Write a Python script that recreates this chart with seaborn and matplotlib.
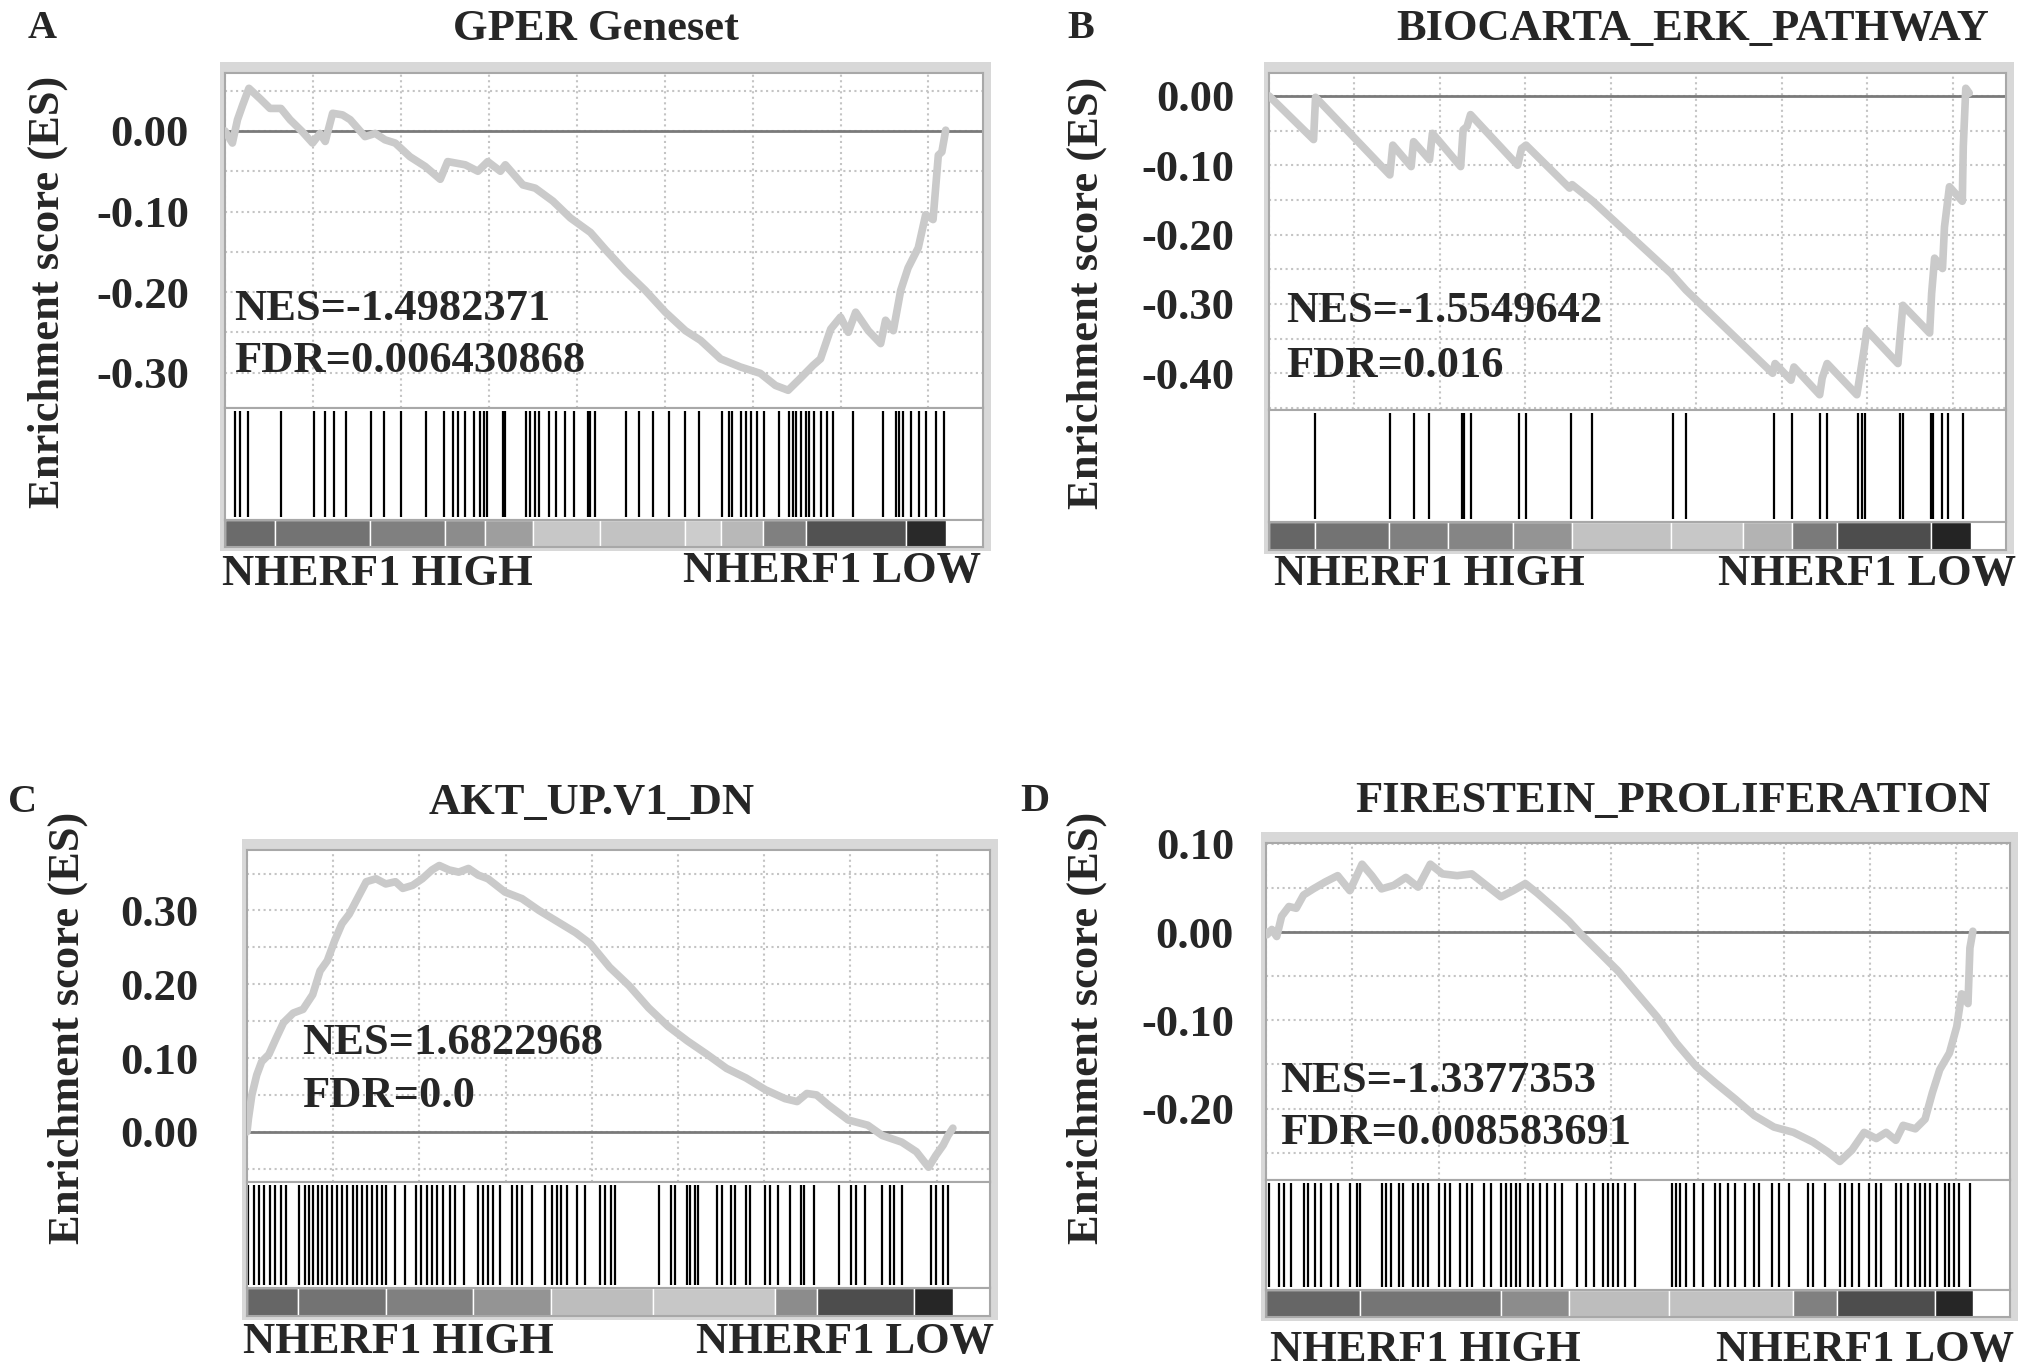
"""
GSEA enrichment plots: NHERF1 high vs low (4 gene sets)
"""

import matplotlib.pyplot as plt
import matplotlib.patches as mpatches
from matplotlib.ticker import MultipleLocator
import seaborn as sns

# ---------------- data ----------------
# ranks in the ordered gene list (grid every 2500), ES values

# A - GPER Geneset
a_rank = [0, 70, 210, 355, 500, 680, 1000, 1280, 1590, 1850, 2200, 2490, 2700, 2850, 3060, 3340, 3560,
          3980, 4270, 4550, 4840, 5260, 5690, 6120, 6330, 6830, 7190, 7470, 7830, 7970, 8470, 8820,
          9320, 9820, 10390, 10810, 11380, 11950, 12520, 13090, 13520, 14090, 14650, 15220, 15650,
          16010, 16360, 16720, 16930, 17220, 17500, 17720, 17930, 18290, 18640, 18780, 19000, 19210,
          19420, 19710, 19920, 20130, 20280, 20380, 20490]
a_es = [0.0, -0.005, -0.015, 0.014, 0.032, 0.053, 0.040, 0.028, 0.028, 0.014, -0.001, -0.015, -0.003,
        -0.013, 0.022, 0.020, 0.014, -0.007, -0.003, -0.011, -0.015, -0.032, -0.044, -0.060, -0.038,
        -0.042, -0.050, -0.038, -0.050, -0.042, -0.067, -0.071, -0.087, -0.108, -0.126, -0.147,
        -0.174, -0.198, -0.225, -0.248, -0.260, -0.283, -0.293, -0.301, -0.316, -0.322, -0.307,
        -0.291, -0.283, -0.246, -0.231, -0.250, -0.225, -0.248, -0.264, -0.235, -0.248, -0.198,
        -0.170, -0.145, -0.104, -0.110, -0.030, -0.026, 0.001]
a_hits = [285, 427, 640, 1594, 2519, 2846, 3088, 3444, 4155, 4511, 5009, 5720, 6218, 6475, 6617, 6830,
          7072, 7257, 7357, 7443, 7898, 7969, 8567, 8681, 8823, 8922, 9207, 9420, 9677, 9918, 10317,
          10388, 10530, 11412, 11768, 12167, 12622, 13092, 13476, 14116, 14330, 14401, 14657, 14799,
          14942, 15112, 15326, 15753, 16037, 16151, 16222, 16365, 16507, 16607, 16749, 16934, 17105,
          17290, 17859, 18712, 19068, 19168, 19282, 19495, 19737, 19922, 20207, 20449]
a_bar_edges = [0, 1420, 4130, 6260, 7400, 8750, 10670, 13090, 14090, 15300, 16510, 19350, 20490]
a_bar_grays = [0.42, 0.45, 0.50, 0.55, 0.62, 0.78, 0.76, 0.80, 0.72, 0.50, 0.32, 0.16]

# B - BIOCARTA_ERK_PATHWAY
b_rank = [0, 1303, 1361, 3533, 3620, 4156, 4228, 4692, 4779, 5604, 5676, 5792, 5893, 7269, 7385, 7515,
          8789, 8862, 9369, 9470, 11758, 12192, 14726, 14798, 15262, 15349, 16102, 16175, 16320, 17189,
          17290, 17406, 17478, 18390, 18462, 18535, 19317, 19375, 19462, 19693, 19751, 19896, 20272,
          20301, 20374, 20475]
b_es = [0.0, -0.063, -0.002, -0.114, -0.071, -0.102, -0.066, -0.092, -0.054, -0.102, -0.049, -0.044,
        -0.027, -0.100, -0.076, -0.071, -0.133, -0.128, -0.148, -0.152, -0.256, -0.280, -0.400, -0.386,
        -0.410, -0.391, -0.431, -0.407, -0.386, -0.431, -0.400, -0.364, -0.338, -0.386, -0.342, -0.302,
        -0.342, -0.285, -0.234, -0.249, -0.189, -0.131, -0.152, -0.073, 0.011, 0.004]
b_hits = [1332, 3533, 4228, 4692, 5647, 5705, 5893, 7298, 7515, 8833, 9441, 11801, 12192, 14755, 15305,
          16102, 16319, 17217, 17333, 17434, 18462, 18534, 19360, 19403, 19693, 19867, 20301]
b_bar_edges = [0, 1332, 3504, 5242, 7124, 8862, 11758, 13858, 15305, 16608, 19360, 20519]
b_bar_grays = [0.40, 0.45, 0.50, 0.52, 0.58, 0.76, 0.78, 0.70, 0.48, 0.30, 0.14]

# C - AKT_UP.V1_DN
c_rank = [0, 42, 141, 282, 424, 635, 847, 1059, 1341, 1624, 1906, 2118, 2330, 2542, 2753, 2965, 3177,
          3459, 3742, 4024, 4307, 4518, 4801, 5083, 5366, 5577, 5860, 6142, 6424, 6707, 6989, 7483,
          7977, 8472, 8966, 9531, 9955, 10519, 11084, 11649, 12214, 12779, 13343, 13908, 14473, 15038,
          15603, 15956, 16238, 16520, 16873, 17438, 18003, 18427, 18992, 19415, 19768, 19980, 20192,
          20333, 20474]
c_es = [0.0, 0.018, 0.050, 0.077, 0.095, 0.105, 0.127, 0.148, 0.161, 0.166, 0.186, 0.218, 0.232, 0.259,
        0.282, 0.295, 0.314, 0.339, 0.343, 0.336, 0.339, 0.330, 0.334, 0.343, 0.355, 0.361, 0.355,
        0.352, 0.357, 0.348, 0.343, 0.325, 0.316, 0.300, 0.286, 0.270, 0.255, 0.223, 0.198, 0.168,
        0.143, 0.123, 0.105, 0.086, 0.073, 0.057, 0.045, 0.041, 0.052, 0.050, 0.036, 0.016, 0.009,
        -0.005, -0.014, -0.027, -0.048, -0.032, -0.018, -0.005, 0.005]
c_hits = [42, 212, 353, 494, 664, 805, 988, 1130, 1511, 1694, 1793, 1906, 2047, 2189, 2330, 2471, 2612,
          2753, 2895, 3064, 3177, 3346, 3488, 3629, 3770, 3911, 4024, 4307, 4589, 4900, 5041, 5224,
          5366, 5507, 5690, 5888, 6029, 6283, 6707, 6848, 6989, 7131, 7342, 7695, 7837, 7978, 8260,
          8656, 8853, 8994, 9107, 9277, 9559, 9813, 10237, 10378, 10548, 10661, 11960, 12284, 12426,
          12750, 12849, 12990, 13089, 13626, 13767, 14049, 14162, 14473, 14586, 15038, 15179, 15391,
          15744, 16054, 16167, 16450, 17156, 17509, 17650, 17932, 18427, 18638, 18780, 18992, 19839,
          19980, 20192, 20333]
c_bar_edges = [0, 1483, 4024, 6566, 8825, 11790, 15320, 16520, 19345, 20474]
c_bar_grays = [0.40, 0.45, 0.50, 0.58, 0.74, 0.78, 0.55, 0.30, 0.15]

# D - FIRESTEIN_PROLIFERATION
d_rank = [0, 28, 169, 311, 452, 664, 875, 1087, 1370, 1723, 2076, 2429, 2782, 3064, 3346, 3699, 4052,
          4405, 4759, 5112, 5535, 5959, 6382, 6806, 7159, 7512, 7865, 8359, 8783, 9136, 9630, 10195,
          10759, 11324, 11889, 12454, 13019, 13583, 14148, 14713, 15278, 15843, 16266, 16619, 16972,
          17325, 17678, 17961, 18243, 18455, 18808, 19090, 19302, 19514, 19796, 20008, 20149, 20333,
          20389, 20474]
d_es = [0.0, -0.003, 0.003, -0.005, 0.018, 0.029, 0.027, 0.042, 0.049, 0.057, 0.064, 0.047, 0.077,
        0.064, 0.049, 0.053, 0.062, 0.051, 0.077, 0.066, 0.064, 0.066, 0.053, 0.040, 0.047, 0.055,
        0.044, 0.027, 0.012, -0.003, -0.022, -0.044, -0.070, -0.096, -0.126, -0.152, -0.171, -0.189,
        -0.208, -0.221, -0.227, -0.238, -0.249, -0.260, -0.247, -0.227, -0.234, -0.227, -0.236,
        -0.219, -0.223, -0.212, -0.182, -0.156, -0.137, -0.107, -0.070, -0.081, -0.018, 0.001]
d_hits = [99, 381, 522, 734, 1087, 1228, 1412, 1581, 1892, 2076, 2429, 2640, 2711, 3346, 3488, 3629,
          3841, 3982, 4264, 4405, 4547, 4688, 4998, 5182, 5323, 5606, 5817, 5959, 6312, 6523, 6806,
          6947, 7088, 7229, 7371, 7582, 7724, 7935, 8147, 8359, 8571, 8994, 9277, 9489, 9771, 9912,
          10053, 10195, 10406, 10689, 11748, 11889, 12002, 12172, 12383, 12666, 13019, 13160, 13372,
          13583, 13866, 14148, 14289, 14642, 14854, 15137, 15702, 15843, 16196, 16619, 16760, 16972,
          17184, 17466, 17678, 17819, 18243, 18384, 18596, 18808, 18949, 19090, 19232, 19443, 19655,
          19796, 19938, 20079, 20389]
d_bar_edges = [0, 2711, 6806, 8783, 11677, 15278, 16548, 19373, 20474]
d_bar_grays = [0.40, 0.46, 0.55, 0.74, 0.76, 0.50, 0.30, 0.15]

letters = ["A", "B", "C", "D"]
titles = ["GPER Geneset", "BIOCARTA_ERK_PATHWAY", "AKT_UP.V1_DN", "FIRESTEIN_PROLIFERATION"]
nes_text = ["NES=-1.4982371", "NES=-1.5549642", "NES=1.6822968", "NES=-1.3377353"]
fdr_text = ["FDR=0.006430868", "FDR=0.016", "FDR=0.0", "FDR=0.008583691"]
yticks = [[0.0, -0.1, -0.2, -0.3], [0.0, -0.1, -0.2, -0.3, -0.4],
          [0.0, 0.1, 0.2, 0.3], [0.1, 0.0, -0.1, -0.2]]
ylabel = "Enrichment score (ES)"
high_label = "NHERF1 HIGH"
low_label = "NHERF1 LOW"

# ---------------- style ----------------
sns.set_style("white")
plt.rcParams['font.family'] = ['Liberation Serif', 'DejaVu Serif']
plt.rcParams['font.weight'] = 'bold'

W, H = 2031, 1372
FS = 32
CURVE = '#cacaca'
EDGE = '#a8a8a8'

fig = plt.figure(figsize=(W / 100, H / 100), dpi=100)


def add_ax(x0, y0, x1, y1):
    # pixel box (top-left origin) -> figure axes
    return fig.add_axes([x0 / W, 1 - y1 / H, (x1 - x0) / W, (y1 - y0) / H])


# layout per panel (pixels): left, right, es_top, es_bottom, hits_bottom, bar_bottom
layouts = [
    dict(box=(225, 983, 73, 408, 520, 547), ylim=(-0.344, 0.072), pad=26,
         title=(596, 29), letter=(42, 29), ylab=(48, 292), nes=(0.012, 0.296), fdr=(0.012, 0.14),
         high=(222, 574), low=(981, 571)),
    dict(box=(1269, 2006, 73, 410, 522, 550), ylim=(-0.453, 0.033), pad=25,
         title=(1693, 29), letter=(1081, 29), ylab=(1087, 293), nes=(0.023, 0.294), fdr=(0.023, 0.13),
         high=(1274, 574), low=(2016, 574)),
    dict(box=(247, 990, 850, 1182, 1288, 1316), ylim=(-0.068, 0.382), pad=35,
         title=(592, 803), letter=(23, 803), ylab=(68, 1028), nes=(0.074, 0.42), fdr=(0.074, 0.26),
         high=(243, 1342), low=(994, 1342)),
    dict(box=(1266, 2010, 843, 1180, 1290, 1317), ylim=(-0.281, 0.101), pad=23,
         title=(1673, 801), letter=(1035, 801), ylab=(1087, 1028), nes=(0.019, 0.294), fdr=(0.019, 0.14),
         high=(1270, 1350), low=(2014, 1350)),
]

series = [
    (a_rank, a_es, a_hits, a_bar_edges, a_bar_grays),
    (b_rank, b_es, b_hits, b_bar_edges, b_bar_grays),
    (c_rank, c_es, c_hits, c_bar_edges, c_bar_grays),
    (d_rank, d_es, d_hits, d_bar_edges, d_bar_grays),
]

XMAX = 21550

for i, lay in enumerate(layouts):
    rank, es, hits, edges, grays = series[i]
    x0, x1, t, e_bot, h_bot, b_bot = lay['box']

    # light grey frame behind the whole GSEA panel
    frame = mpatches.Rectangle(((x0 - 5) / W, 1 - (b_bot + 4) / H), (x1 - x0 + 13) / W,
                               (b_bot - t + 15) / H, transform=fig.transFigure,
                               facecolor='#d8d8d8', edgecolor='none', zorder=-1)
    fig.patches.append(frame)

    # enrichment score plot
    ax = add_ax(x0, t, x1, e_bot)
    ax.set_facecolor('white')
    ax.axhline(0, color='#7a7a7a', lw=2, zorder=2)
    sns.lineplot(x=rank, y=es, ax=ax, color=CURVE, linewidth=5.5, sort=False, estimator=None, zorder=3)
    ax.set_xlim(0, XMAX)
    ax.set_ylim(*lay['ylim'])
    ax.xaxis.set_major_locator(MultipleLocator(2500))
    ax.set_xticklabels([])
    ax.set_yticks(yticks[i])
    ax.set_yticklabels([f"{v:.2f}" for v in yticks[i]], fontsize=FS, fontweight='bold')
    ax.yaxis.set_minor_locator(MultipleLocator(0.05))
    ax.tick_params(axis='both', which='both', length=0)
    ax.tick_params(axis='y', pad=lay['pad'])
    ax.grid(True, which='both', ls=':', color='#c4c4c4', lw=1.5)
    ax.set_xlabel('')
    ax.set_ylabel('')
    for s in ax.spines.values():
        s.set_color(EDGE)
        s.set_linewidth(1.5)
    ax.text(*lay['nes'], nes_text[i], transform=ax.transAxes, fontsize=FS, fontweight='bold',
            va='center', ha='left', zorder=4)
    ax.text(*lay['fdr'], fdr_text[i], transform=ax.transAxes, fontsize=FS, fontweight='bold',
            va='center', ha='left', zorder=4)

    # hit positions
    axh = add_ax(x0, e_bot, x1, h_bot)
    axh.vlines(hits, 0.03, 0.97, color='black', lw=1.6)
    axh.set_xlim(0, XMAX)
    axh.set_ylim(0, 1)
    axh.set_xticks([])
    axh.set_yticks([])
    for s in axh.spines.values():
        s.set_color(EDGE)
        s.set_linewidth(1.5)

    # ranked-metric colour bar
    axb = add_ax(x0, h_bot, x1, b_bot)
    segs = [(edges[k], edges[k + 1] - edges[k]) for k in range(len(grays))]
    axb.broken_barh(segs, (0, 1), facecolors=[str(g) for g in grays])
    axb.set_xlim(0, XMAX)
    axb.set_ylim(0, 1)
    axb.set_xticks([])
    axb.set_yticks([])
    for s in axb.spines.values():
        s.set_color(EDGE)
        s.set_linewidth(1.5)

    # labels
    fig.text(lay['title'][0] / W, 1 - lay['title'][1] / H, titles[i], fontsize=FS, fontweight='bold',
             ha='center', va='center')
    fig.text(lay['letter'][0] / W, 1 - lay['letter'][1] / H, letters[i], fontsize=FS - 3,
             fontweight='bold', ha='center', va='center')
    fig.text(lay['ylab'][0] / W, 1 - lay['ylab'][1] / H, ylabel, fontsize=FS, fontweight='bold',
             rotation=90, ha='center', va='center')
    fig.text(lay['high'][0] / W, 1 - lay['high'][1] / H, high_label, fontsize=FS, fontweight='bold',
             ha='left', va='center')
    fig.text(lay['low'][0] / W, 1 - lay['low'][1] / H, low_label, fontsize=FS, fontweight='bold',
             ha='right', va='center')

fig.savefig('out.png', dpi=100)
